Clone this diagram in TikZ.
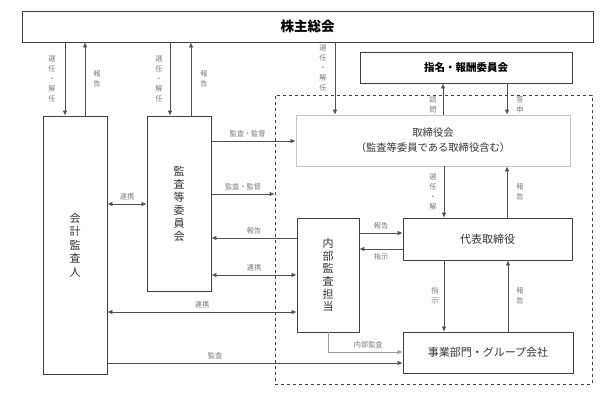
\documentclass[tikz,border=0pt]{standalone}
\usepackage{fontspec}
\newfontfamily\jp{Noto Sans CJK JP}
\usetikzlibrary{arrows.meta}
\definecolor{boxgray}{HTML}{404040}
\definecolor{linegray}{HTML}{505050}
\definecolor{lblgray}{HTML}{7A7A7A}
\definecolor{textgray}{HTML}{333333}

\begin{document}
\begin{tikzpicture}[x=1pt,y=-1pt,
    >={Latex[length=5pt,width=4.5pt]},
    box/.style={draw=boxgray,line width=0.8pt,inner sep=0pt,text=textgray,align=center,
      font=\jp\fontsize{11}{13.5}\selectfont},
    lbl/.style={font=\jp\fontsize{7.2}{10}\selectfont,text=lblgray,align=center,inner sep=0pt},
    line/.style={draw=linegray,line width=0.7pt}]
    \useasboundingbox (0,0) rectangle (614,405);
    % boxes
    \node[draw=boxgray,dashed,line width=0.7pt,inner sep=0pt,minimum width=317,minimum height=289] (frame) at (433.5,239.5) {};
    \node[box,text=black,font=\jp\bfseries\fontsize{13.5}{15}\selectfont,minimum width=571,minimum height=31] (soukai) at (307.5,26.5) {株主総会};
    \node[box,text=black,font=\jp\bfseries\fontsize{10.5}{12}\selectfont,minimum width=212,minimum height=31] (shimei) at (466,67.5) {指名・報酬委員会};
    \node[box,draw=black!22,font=\jp\fontsize{10.3}{15}\selectfont,minimum width=274,minimum height=51] (torikai) at (433,140.5) {取締役会\\（監査等委員である取締役含む）};
    \node[box,minimum width=64,minimum height=258] (kaikei) at (75,245) {会\\計\\監\\査\\人};
    \node[box,font=\jp\fontsize{11}{13}\selectfont,minimum width=64,minimum height=175] (kansa) at (179,203.5) {監\\査\\等\\委\\員\\会};
    \node[box,font=\jp\fontsize{11}{12.6}\selectfont,minimum width=62,minimum height=114] (naibu) at (328,275) {内\\部\\監\\査\\担\\当};
    \node[box,minimum width=169,minimum height=42] (daihyo) at (487.5,239) {代表取締役};
    \node[box,minimum width=170,minimum height=41] (jigyo) at (488,352.5) {事業部門・グループ会社};
    % vertical connectors
    \draw[line,->] (soukai.south -| 65,0) -- (kaikei.north -| 65,0) node[lbl,midway,left=9pt] (l1) {選\\任\\・\\解\\任};
    \draw[line,->] (kaikei.north -| 85,0) -- (soukai.south -| 85,0) node[lbl,midway,right=8pt] (l2) {報\\告};
    \draw[line,->] (soukai.south -| 170,0) -- (kansa.north -| 170,0) node[lbl,midway,left=7pt] (l3) {選\\任\\・\\解\\任};
    \draw[line,->] (kansa.north -| 191,0) -- (soukai.south -| 191,0) node[lbl,midway,right=9pt] (l4) {報\\告};
    \draw[line,->] (soukai.south -| 335,0) -- (torikai.north -| 335,0) node[lbl,pos=0.35,left=8pt] (l5) {選\\任\\・\\解\\任};
    \draw[line,->] (torikai.north -| 443,0) -- (shimei.south -| 443,0) node[lbl,pos=0.31,left=6pt] (l6) {諮\\問};
    \draw[line,->] (shimei.south -| 507,0) -- (torikai.north -| 507,0) node[lbl,pos=0.69,right=9pt] (l7) {答\\申};
    \draw[line,->] (torikai.south -| 444,0) -- (daihyo.north -| 444,0) node[lbl,midway,left=7pt] (l8) {選\\任\\・\\解};
    \draw[line,->] (daihyo.north -| 507,0) -- (torikai.south -| 507,0) node[lbl,midway,right=9pt] (l9) {報\\告};
    \draw[line,->] (daihyo.south -| 444,0) -- (jigyo.north -| 444,0) node[lbl,midway,left=5pt] (l10) {指\\示};
    \draw[line,->] (jigyo.north -| 508,0) -- (daihyo.south -| 508,0) node[lbl,midway,right=8pt] (l11) {報\\告};
    % horizontal connectors
    \draw[line,->] (kansa.east |- 0,141) -- (torikai.west |- 0,141) node[lbl,pos=0.43,above=4pt] (l12) {監査・監督};
    \draw[line,->] (kansa.east |- 0,194) -- (frame.west |- 0,194) node[lbl,midway,above=4pt] (l13) {監査・監督};
    \draw[line,->] (naibu.west |- 0,238) -- (kansa.east |- 0,238) node[lbl,midway,above=4pt] (l14) {報告};
    \draw[line,<->] (kansa.east |- 0,275) -- (naibu.west |- 0,275) node[lbl,midway,above=4pt] (l15) {連携};
    \draw[line,<->] (kaikei.east |- 0,204) -- (kansa.west |- 0,204) node[lbl,midway,above=4pt] (l16) {連携};
    \draw[line,<->] (kaikei.east |- 0,312) -- (naibu.west |- 0,312) node[lbl,midway,above=4pt] (l17) {連携};
    \draw[line,->] (kaikei.east |- 0,363) -- (jigyo.west |- 0,363) node[lbl,pos=0.365,above=4pt] (l18) {監査};
    \draw[line,draw=black!40,->] (naibu.south -| 328,0) |- (jigyo.west |- 0,352) node[lbl,pos=0.77,above=4pt] (l19) {内部監査};
    \draw[line,->] (naibu.east |- 0,233) -- (daihyo.west |- 0,233) node[lbl,midway,above=4pt] (l20) {報告};
    \draw[line,->] (daihyo.west |- 0,249) -- (naibu.east |- 0,249) node[lbl,midway,below=4pt] (l21) {指示};
\end{tikzpicture}
\end{document}
